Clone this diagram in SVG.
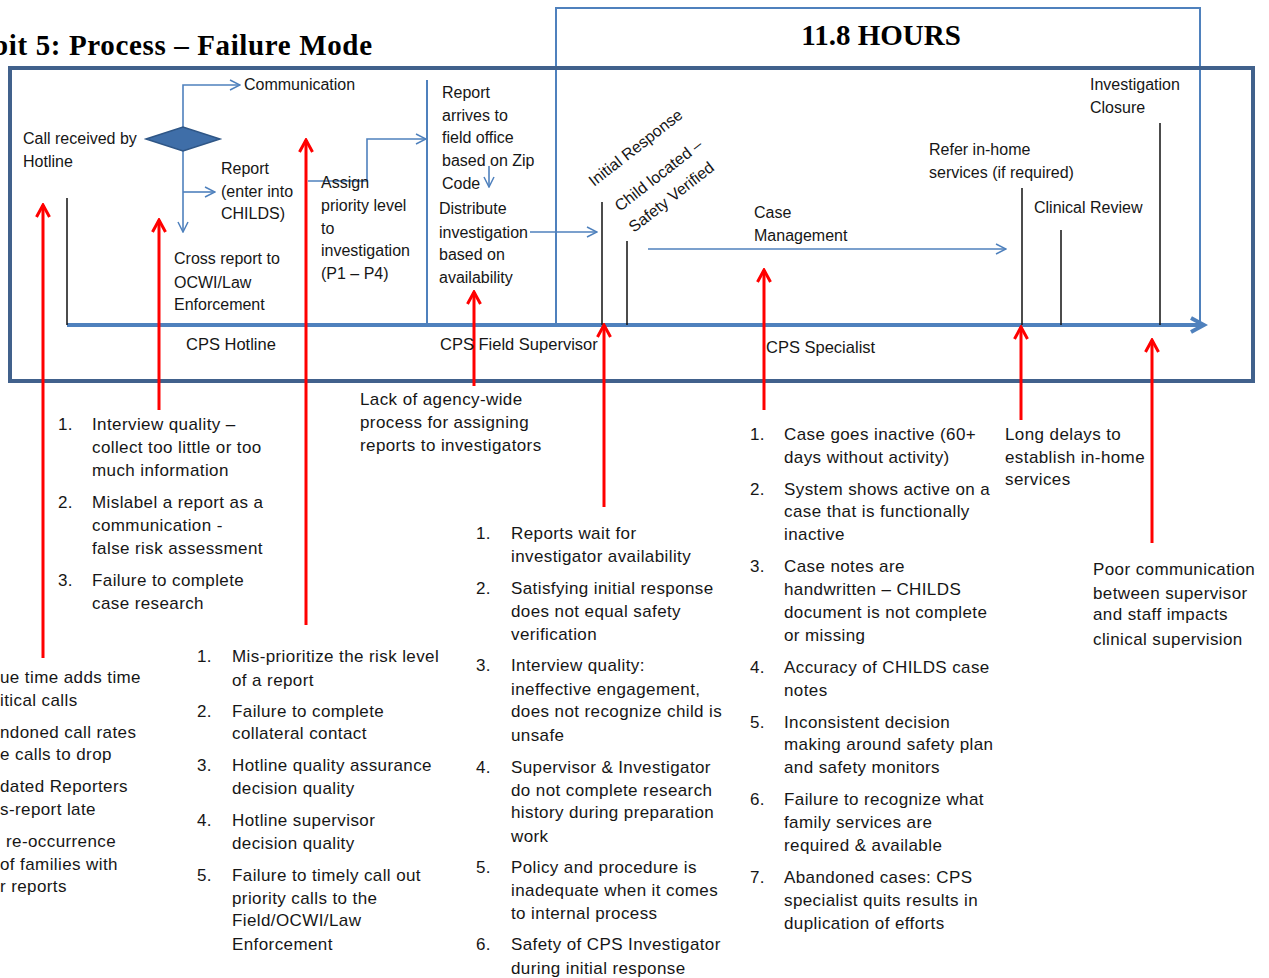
<svg xmlns="http://www.w3.org/2000/svg" width="1269" height="978" viewBox="0 0 1269 978">
<style>
text{font-family:"Liberation Sans",Arial,sans-serif;font-size:16px;fill:#161616}
.l text{font-size:17px;letter-spacing:0.4px}
.lane{font-size:16.5px}
.t{font-family:"Liberation Serif","Times New Roman",serif;font-weight:bold;font-size:29px;fill:#000}
.blue{stroke:#4f81bd;stroke-width:1.6;fill:none}
.blk{stroke:#111;stroke-width:1.5;fill:none}
.red{stroke:#ff0000;stroke-width:3;fill:none}
</style>
<defs>
<marker id="ba" viewBox="0 0 12 12" refX="11" refY="6" markerWidth="12" markerHeight="12" markerUnits="userSpaceOnUse" orient="auto">
<path d="M1,1 L11,6 L1,11" fill="none" stroke="#4f81bd" stroke-width="1.5"/>
</marker>
<marker id="ra" viewBox="0 0 16 16" refX="14" refY="8" markerWidth="16" markerHeight="16" markerUnits="userSpaceOnUse" orient="auto">
<path d="M2,1.5 L14,8 L2,14.5" fill="none" stroke="#ff0000" stroke-width="3"/>
</marker>
<marker id="axa" viewBox="0 0 20 20" refX="16" refY="10" markerWidth="20" markerHeight="20" markerUnits="userSpaceOnUse" orient="auto">
<path d="M3,3 L16,10 L3,17" fill="none" stroke="#4f81bd" stroke-width="4"/>
</marker>
</defs>
<rect width="1269" height="978" fill="#fff"/>
<text class="t" x="-8" y="55" textLength="380" lengthAdjust="spacing">bit 5: Process – Failure Mode</text>
<g id="hours">
<path d="M556,323 V8 H1200 V322" fill="none" stroke="#4f81bd" stroke-width="2"/>
<text class="t" x="881" y="45" text-anchor="middle">11.8 HOURS</text>
</g>
<rect id="frame" x="10" y="68" width="1243" height="313" fill="none" stroke="#41618c" stroke-width="4"/>
<g id="connectors">
<line x1="67" y1="325" x2="1204" y2="325" stroke="#4f81bd" stroke-width="4" marker-end="url(#axa)"/>
<line class="blk" x1="67" y1="198" x2="67" y2="325"/>
<line x1="427" y1="80" x2="427" y2="325" stroke="#4f81bd" stroke-width="2"/>
<path class="blue" d="M183,127 V85 H240" marker-end="url(#ba)"/>
<path class="blue" d="M183,151 V232" marker-end="url(#ba)"/>
<path class="blue" d="M183,192 H215" marker-end="url(#ba)"/>
<path class="blue" d="M308,181 H367 V139 H426" marker-end="url(#ba)"/>
<path class="blue" d="M489,166 V187" marker-end="url(#ba)"/>
<path class="blue" d="M530,232 H597" marker-end="url(#ba)"/>
<path class="blue" d="M648,249 H1006" marker-end="url(#ba)"/>
<line class="blk" x1="602" y1="202" x2="602" y2="325"/>
<line class="blk" x1="627" y1="241" x2="627" y2="325"/>
<line class="blk" x1="1022" y1="188" x2="1022" y2="325"/>
<line class="blk" x1="1061" y1="230" x2="1061" y2="325"/>
<line class="blk" x1="1160" y1="123" x2="1160" y2="325"/>
<line class="red" x1="43" y1="658" x2="43" y2="205" marker-end="url(#ra)"/>
<line class="red" x1="159" y1="410" x2="159" y2="220" marker-end="url(#ra)"/>
<line class="red" x1="306" y1="625" x2="306" y2="140" marker-end="url(#ra)"/>
<line class="red" x1="474" y1="386" x2="474" y2="292" marker-end="url(#ra)"/>
<line class="red" x1="604" y1="507" x2="604" y2="325" marker-end="url(#ra)"/>
<line class="red" x1="764" y1="410" x2="764" y2="270" marker-end="url(#ra)"/>
<line class="red" x1="1021" y1="420" x2="1021" y2="327" marker-end="url(#ra)"/>
<line class="red" x1="1152" y1="543" x2="1152" y2="340" marker-end="url(#ra)"/>
</g>
<g id="decision">
<path d="M146,139 L183,127 L220,139 L183,151 Z" fill="#3f6ea8" stroke="#2f5686" stroke-width="1.5"/>
</g>
<g id="call"><text x="23" y="144">Call received by</text><text x="23" y="167">Hotline</text></g>
<g id="communication"><text x="244" y="90">Communication</text></g>
<g id="report"><text x="221" y="174">Report</text><text x="221" y="197">(enter into</text><text x="221" y="219">CHILDS)</text></g>
<g id="cross"><text x="174" y="264">Cross report  to</text><text x="174" y="288">OCWI/Law</text><text x="174" y="310">Enforcement</text></g>
<g id="assign"><text x="321" y="188">Assign</text><text x="321" y="211">priority level</text><text x="321" y="234">to</text><text x="321" y="256">investigation</text><text x="321" y="279">(P1 – P4)</text></g>
<g id="arrives"><text x="442" y="98">Report</text><text x="442" y="121">arrives  to</text><text x="442" y="143">field office</text><text x="442" y="166">based on Zip</text><text x="442" y="189">Code</text></g>
<g id="distribute"><text x="439" y="214">Distribute</text><text x="439" y="238">investigation</text><text x="439" y="260">based on</text><text x="439" y="283">availability</text></g>
<g id="initial"><text transform="translate(594,187) rotate(-38)">Initial Response</text></g>
<g id="child"><text transform="translate(620,212) rotate(-38)">Child located –</text><text transform="translate(634,233) rotate(-38)">Safety Verified</text></g>
<g id="casemgmt"><text x="754" y="218">Case</text><text x="754" y="241">Management</text></g>
<g id="refer"><text x="929" y="155">Refer in-home</text><text x="929" y="178">services (if required)</text></g>
<g id="clinical"><text x="1034" y="213">Clinical Review</text></g>
<g id="closure"><text x="1090" y="90">Investigation</text><text x="1090" y="113">Closure</text></g>
<g id="lanes"><text class="lane" x="186" y="350">CPS Hotline</text><text class="lane" x="440" y="350">CPS Field Supervisor</text><text class="lane" x="766" y="353">CPS Specialist</text></g>
<g id="list-hotline-intake" class="l">
<text x="58" y="430">1.</text><text x="92" y="430">Interview quality –</text><text x="92" y="453">collect too little or too</text><text x="92" y="476">much information</text>
<text x="58" y="508">2.</text><text x="92" y="508">Mislabel a report as a</text><text x="92" y="531">communication  -</text><text x="92" y="554">false risk assessment</text>
<text x="58" y="586">3.</text><text x="92" y="586">Failure to complete</text><text x="92" y="609">case research</text>
</g>
<g id="list-queue" class="l">
<text x="0" y="683">ue time adds time</text><text x="0" y="706">itical calls</text>
<text x="0" y="738">ndoned call rates</text><text x="0" y="760">e calls to drop</text>
<text x="0" y="792">dated Reporters</text><text x="0" y="815">s-report late</text>
<text x="6" y="847">re-occurrence</text><text x="0" y="870">of families with</text><text x="0" y="892">r reports</text>
</g>
<g id="list-priority" class="l">
<text x="197" y="662">1.</text><text x="232" y="662">Mis-prioritize the risk level</text><text x="232" y="686">of a report</text>
<text x="197" y="717">2.</text><text x="232" y="717">Failure to complete</text><text x="232" y="739">collateral contact</text>
<text x="197" y="771">3.</text><text x="232" y="771">Hotline quality assurance</text><text x="232" y="794">decision quality</text>
<text x="197" y="826">4.</text><text x="232" y="826">Hotline supervisor</text><text x="232" y="849">decision quality</text>
<text x="197" y="881">5.</text><text x="232" y="881">Failure to timely call out</text><text x="232" y="904">priority calls to the</text><text x="232" y="926">Field/OCWI/Law</text><text x="232" y="950">Enforcement</text>
</g>
<g id="lack" class="l"><text x="360" y="405">Lack of agency-wide</text><text x="360" y="428">process for assigning</text><text x="360" y="451">reports to investigators</text></g>
<g id="list-initial" class="l">
<text x="476" y="539">1.</text><text x="511" y="539">Reports wait for</text><text x="511" y="562">investigator availability</text>
<text x="476" y="594">2.</text><text x="511" y="594">Satisfying initial response</text><text x="511" y="617">does not equal safety</text><text x="511" y="640">verification</text>
<text x="476" y="671">3.</text><text x="511" y="671">Interview quality:</text><text x="511" y="695">ineffective engagement,</text><text x="511" y="717">does not recognize child is</text><text x="511" y="741">unsafe</text>
<text x="476" y="773">4.</text><text x="511" y="773">Supervisor &amp; Investigator</text><text x="511" y="796">do not complete research</text><text x="511" y="818">history during preparation</text><text x="511" y="842">work</text>
<text x="476" y="873">5.</text><text x="511" y="873">Policy and procedure is</text><text x="511" y="896">inadequate when it comes</text><text x="511" y="919">to internal process</text>
<text x="476" y="950">6.</text><text x="511" y="950">Safety of CPS Investigator</text><text x="511" y="974">during initial response</text>
</g>
<g id="list-case" class="l">
<text x="750" y="440">1.</text><text x="784" y="440">Case goes inactive  (60+</text><text x="784" y="463">days without activity)</text>
<text x="750" y="495">2.</text><text x="784" y="495">System shows active on a</text><text x="784" y="517">case that is functionally</text><text x="784" y="540">inactive</text>
<text x="750" y="572">3.</text><text x="784" y="572">Case notes are</text><text x="784" y="595">handwritten – CHILDS</text><text x="784" y="618">document is not complete</text><text x="784" y="641">or missing</text>
<text x="750" y="673">4.</text><text x="784" y="673">Accuracy of CHILDS case</text><text x="784" y="696">notes</text>
<text x="750" y="728">5.</text><text x="784" y="728">Inconsistent decision</text><text x="784" y="750">making around safety plan</text><text x="784" y="773">and safety monitors</text>
<text x="750" y="805">6.</text><text x="784" y="805">Failure to recognize what</text><text x="784" y="828">family services are</text><text x="784" y="851">required &amp; available</text>
<text x="750" y="883">7.</text><text x="784" y="883">Abandoned cases: CPS</text><text x="784" y="906">specialist quits results in</text><text x="784" y="929">duplication of efforts</text>
</g>
<g id="delays" class="l"><text x="1005" y="440">Long delays to</text><text x="1005" y="463">establish in-home</text><text x="1005" y="485">services</text></g>
<g id="poorcomm" class="l"><text x="1093" y="575">Poor communication</text><text x="1093" y="599">between supervisor</text><text x="1093" y="620">and staff impacts</text><text x="1093" y="645">clinical supervision</text></g>
</svg>
